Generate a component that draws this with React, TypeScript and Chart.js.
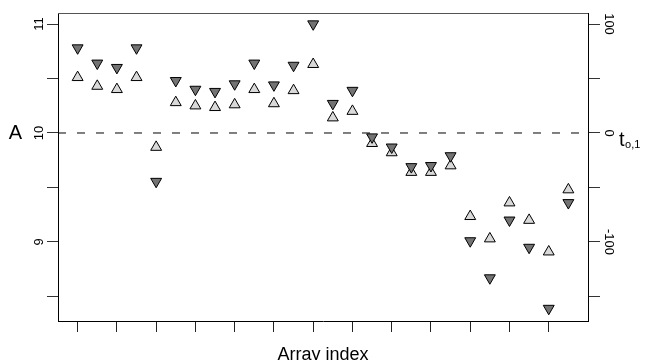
import { useEffect, useRef } from 'react';
import { Chart, registerables } from 'chart.js';

Chart.register(...registerables);

// Array index (x)
const arrayIndex = [1, 2, 3, 4, 5, 6, 7, 8, 9, 10, 11, 12, 13, 14, 15, 16, 17, 18, 19, 20, 21, 22, 23, 24, 25, 26];
// Light up-triangles, left axis "A"
const seriesA = [10.51, 10.43, 10.40, 10.51, 9.87, 10.28, 10.25, 10.235, 10.26, 10.40, 10.27, 10.39, 10.63, 10.14, 10.20, 9.905, 9.82, 9.64, 9.64, 9.70, 9.235, 9.03, 9.36, 9.20, 8.91, 9.48];
// Dark down-triangles, right axis "t_o,1"
const seriesT = [78, 64, 60, 78, -44.5, 48, 40, 38, 45, 64, 44, 62, 100, 27, 39, -3.7, -13, -31, -30, -21, -99, -133, -80, -105, -161, -64];

const xTickValues = [1, 3, 5, 7, 9, 11, 13, 15, 17, 19, 21, 23, 25];
const leftTickValues = [8.5, 9, 9.5, 10, 10.5, 11];
const rightTickValues = [-150, -100, -50, 0, 50, 100];
const referenceLevel = 10;

const xRange = [0, 27];
const leftRange = [8.275, 11.101];
const rightRange = [-172.5, 110.1];

const FONT = "'Liberation Sans', Arial, sans-serif";

const titlesPlugin = {
  id: 'titles',
  afterDraw(chart: any) {
    const { ctx, chartArea } = chart;
    ctx.save();
    // top border of the box
    ctx.strokeStyle = '#555';
    ctx.lineWidth = 1;
    ctx.beginPath();
    ctx.moveTo(chartArea.left, Math.round(chartArea.top) + 0.5);
    ctx.lineTo(chartArea.right, Math.round(chartArea.top) + 0.5);
    ctx.stroke();

    ctx.fillStyle = '#000';
    // left title
    ctx.font = `20px ${FONT}`;
    ctx.textAlign = 'center';
    ctx.textBaseline = 'middle';
    const y10 = chart.scales.y.getPixelForValue(referenceLevel);
    ctx.fillText('A', 15.5, y10);
    // right title t_{o,1}
    ctx.textAlign = 'left';
    ctx.textBaseline = 'alphabetic';
    ctx.font = `20px ${FONT}`;
    ctx.fillText('t', 619, y10 + 13);
    const tw = ctx.measureText('t').width;
    ctx.font = `11px ${FONT}`;
    ctx.fillText('o,1', 619 + tw + 0.5, y10 + 15);
    // bottom title
    ctx.font = `18px ${FONT}`;
    ctx.textAlign = 'center';
    ctx.fillText('Array index', (chartArea.left + chartArea.right) / 2 + 0, 360);
    ctx.restore();
  },
};

export default function App() {
  const canvasRef = useRef<HTMLCanvasElement | null>(null);

  useEffect(() => {
    document.body.style.margin = '0';
    const canvas = canvasRef.current;
    if (!canvas) return;

    const chart = new Chart(canvas, {
      type: 'scatter',
      data: {
        datasets: [
          {
            label: 'A',
            data: arrayIndex.map((x, i) => ({ x, y: seriesA[i] })),
            yAxisID: 'y',
            pointStyle: 'triangle',
            pointRadius: 6.3,
            pointBackgroundColor: '#d9d9d9',
            pointBorderColor: '#000',
            pointBorderWidth: 1,
            order: 2,
          },
          {
            label: 't',
            data: arrayIndex.map((x, i) => ({ x, y: seriesT[i] })),
            yAxisID: 'y2',
            pointStyle: 'triangle',
            pointRotation: 180,
            pointRadius: 6.3,
            pointBackgroundColor: '#737373',
            pointBorderColor: '#000',
            pointBorderWidth: 1,
            order: 1,
          },
          {
            label: 'ref',
            data: [
              { x: xRange[0], y: referenceLevel },
              { x: xRange[1], y: referenceLevel },
            ],
            yAxisID: 'y',
            showLine: true,
            borderColor: '#000',
            borderWidth: 1,
            borderDash: [8, 11],
            pointRadius: 0,
            order: 3,
          } as any,
        ],
      },
      options: {
        responsive: false,
        animation: false,
        devicePixelRatio: 1,
        events: [],
        layout: { padding: { top: 13, left: 0, right: 0, bottom: 0 } },
        plugins: {
          legend: { display: false },
          tooltip: { enabled: false },
        },
        scales: {
          x: {
            type: 'linear',
            min: xRange[0],
            max: xRange[1],
            afterBuildTicks: (s: any) => {
              s.ticks = xTickValues.map((v) => ({ value: v }));
            },
            afterFit: (s: any) => {
              s.height = 39;
            },
            ticks: { display: false },
            grid: {
              drawOnChartArea: false,
              drawTicks: true,
              tickLength: 11,
              tickColor: '#222',
              lineWidth: 1,
            },
            border: { display: true, color: '#000', width: 1 },
          },
          y: {
            type: 'linear',
            position: 'left',
            min: leftRange[0],
            max: leftRange[1],
            afterBuildTicks: (s: any) => {
              s.ticks = leftTickValues.map((v) => ({ value: v }));
            },
            afterFit: (s: any) => {
              s.width = 58;
            },
            ticks: {
              minRotation: 90,
              maxRotation: 90,
              crossAlign: 'center',
              padding: 0,
              autoSkip: false,
              color: '#000',
              font: { family: FONT, size: 13 },
              callback: (v: any) => (Number.isInteger(v) ? String(v) : ''),
            },
            grid: {
              drawOnChartArea: false,
              drawTicks: true,
              tickLength: 11,
              tickColor: '#333',
              lineWidth: 1,
            },
            border: { display: true, color: '#000', width: 1 },
          },
          y2: {
            type: 'linear',
            position: 'right',
            min: rightRange[0],
            max: rightRange[1],
            afterBuildTicks: (s: any) => {
              s.ticks = rightTickValues.map((v) => ({ value: v }));
            },
            afterFit: (s: any) => {
              s.width = 62;
            },
            ticks: {
              minRotation: -90,
              maxRotation: -90,
              crossAlign: 'center',
              padding: -4,
              autoSkip: false,
              color: '#000',
              font: { family: FONT, size: 13 },
              callback: (v: any) => (v % 100 === 0 ? String(v) : ''),
            },
            grid: {
              drawOnChartArea: false,
              drawTicks: true,
              tickLength: 12,
              tickColor: '#333',
              lineWidth: 1,
            },
            border: { display: true, color: '#000', width: 1 },
          },
        },
      } as any,
      plugins: [titlesPlugin],
    });

    return () => {
      chart.destroy();
    };
  }, []);

  return (
    <div style={{ width: 650, height: 360 }}>
      <canvas ref={canvasRef} width={650} height={360} />
    </div>
  );
}
